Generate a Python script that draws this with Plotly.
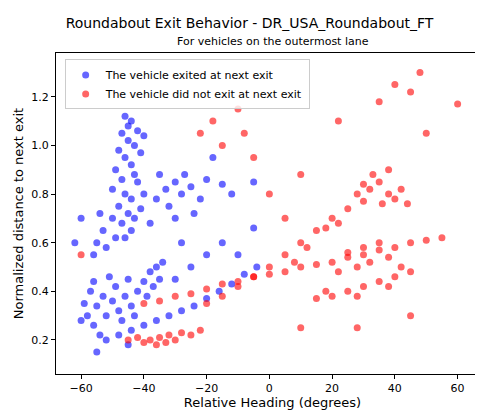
import plotly.graph_objs as go

# points, grouped roughly by cluster
exit_x = [-46,-44,-47,-45,-43,-42,-48,-46,-44,-41,-40,-49,-43,-45,-47,
          -55,-53,-50,-48,-46,-44,-52,-49,-47,-45,-43,-41,-40,-42,-50,-56,-54,-46,-38,-44,
          -36,-33,-30,-28,-25,-22,-27,-32,-35,-20,-15,-12,-24,-30,
          -58,-56,-55,-53,-52,-50,-49,-48,-46,-45,-44,-42,-40,-38,-36,-34,-54,-57,-51,-47,-43,-39,-37,-35,-60,-59,-56,
          -52,-48,-44,-40,-36,-32,-28,-24,-20,-16,-12,-8,-4,-30,-25,-20,-15,-28,-10,-5,-45,-55,
          -62,-60,-5,-18]
exit_y = [1.12,1.1,1.05,1.02,1.0,1.06,0.98,0.95,0.92,0.97,1.04,0.9,0.88,1.08,0.86,
          0.6,0.65,0.7,0.75,0.8,0.78,0.58,0.62,0.68,0.72,0.7,0.74,0.8,0.85,0.82,0.55,0.72,0.62,0.68,0.65,
          0.78,0.82,0.85,0.8,0.83,0.78,0.88,0.75,0.88,0.86,0.84,0.8,0.72,0.7,
          0.3,0.26,0.34,0.38,0.3,0.36,0.42,0.32,0.38,0.45,0.34,0.4,0.44,0.48,0.5,0.52,0.22,0.4,0.46,0.28,0.3,0.38,0.42,0.45,0.28,0.35,0.44,
          0.2,0.22,0.24,0.26,0.28,0.3,0.32,0.34,0.37,0.4,0.43,0.47,0.5,0.45,0.5,0.55,0.6,0.6,0.55,0.66,0.18,0.15,
          0.6,0.7,0.85,0.95]

noexit_x = [-45,-42,-40,-38,-35,-32,-30,-28,-25,-22,-36,-33,
            -40,-35,-30,-25,-20,-15,-10,-5,0,5,10,15,20,25,30,35,40,45,50,55,22,28,32,38,25,30,35,
            15,20,25,30,35,40,45,18,28,38,42,
            -20,-15,-10,-5,0,5,10,15,20,25,30,8,12,18,22,
            28,32,35,38,40,42,36,33,30,44,38,
            -22,-18,-15,-10,-8,-5,0,5,10,22,35,40,45,48,60,50,45,10,28,-60]
noexit_y = [0.2,0.21,0.19,0.2,0.21,0.22,0.2,0.23,0.22,0.24,0.18,0.19,
            0.35,0.36,0.38,0.39,0.41,0.43,0.44,0.46,0.47,0.48,0.5,0.51,0.52,0.54,0.55,0.57,0.58,0.6,0.61,0.62,0.48,0.5,0.52,0.54,0.56,0.58,0.6,
            0.37,0.38,0.4,0.42,0.44,0.46,0.48,0.4,0.38,0.42,0.5,
            0.35,0.38,0.42,0.46,0.5,0.55,0.6,0.65,0.7,0.74,0.77,0.52,0.58,0.66,0.68,
            0.8,0.82,0.85,0.8,0.78,0.82,0.76,0.88,0.84,0.76,0.9,
            1.05,1.1,1.0,1.15,1.05,0.95,0.8,0.7,0.88,1.1,1.18,1.25,1.22,1.3,1.17,1.05,0.3,0.25,0.25,0.55]

fig = go.Figure()
fig.add_trace(go.Scatter(x=exit_x, y=exit_y, mode='markers', name='The vehicle exited at next exit',
                         marker={'size':7, 'color':'rgba(0,0,255,0.6)'}))
fig.add_trace(go.Scatter(x=noexit_x, y=noexit_y, mode='markers', name='The vehicle did not exit at next exit',
                         marker={'size':7, 'color':'rgba(255,0,0,0.6)'}))

axis = dict(showgrid=False, zeroline=False, showline=True, mirror=True, linecolor='black',
            ticks='outside', tickcolor='black', ticklen=4)
fig.update_layout(width=483, height=410, plot_bgcolor='white', paper_bgcolor='white',
                  font={'family':'DejaVu Sans', 'size':11, 'color':'black'},
                  margin=dict(l=48, r=2, t=45, b=44),
                  title=dict(text='Roundabout Exit Behavior - DR_USA_Roundabout_FT', x=0.5, y=0.975,
                             xanchor='center', font={'size':14}),
                  annotations=[dict(text='For vehicles on the outermost lane', x=0.5, y=1.01, xref='paper',
                                    yref='paper', showarrow=False, yanchor='bottom', font={'size':11})],
                  legend=dict(x=0.02, y=0.98, xanchor='left', yanchor='top', bordercolor='#ccc',
                              borderwidth=1, bgcolor='rgba(255,255,255,0.8)'))
fig.update_xaxes(axis, title_text='Relative Heading (degrees)', range=[-68, 70], dtick=20, title_standoff=2)
fig.update_yaxes(axis, title_text='Normalized distance to next exit', range=[0.06, 1.38], dtick=0.2,
                 tickformat='.1f', title_standoff=4)
fig.write_html('out.html')
